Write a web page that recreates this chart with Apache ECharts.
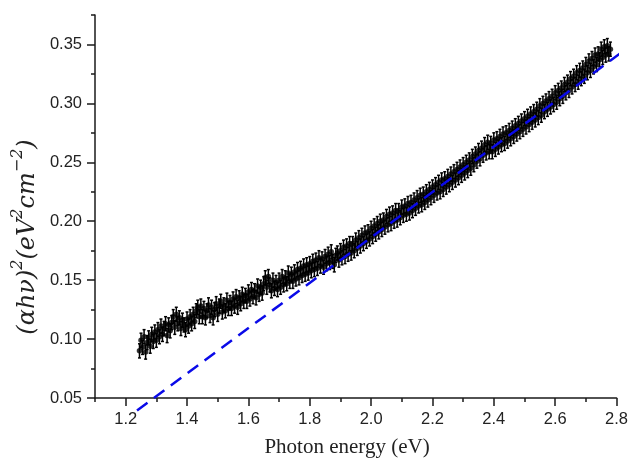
<!DOCTYPE html>
<html>
<head>
<meta charset="utf-8">
<script src="https://cdn.jsdelivr.net/npm/echarts@6/dist/echarts.min.js"></script>
<style>
html,body{margin:0;padding:0;background:#fff;}
#chart{width:631px;height:460px;}
</style>
</head>
<body>
<div id="chart"></div>
<script>
// ---- data ----
const xStart = 1.245;      // first photon energy (eV)
const xStep = 0.005;       // sampling step (eV)
const absorb = [
  0.090,0.099,0.093,0.102,0.089,0.097,0.101,0.094,0.104,0.098,
  0.106,0.099,0.108,0.102,0.111,0.104,0.109,0.113,0.103,0.112,
  0.107,0.114,0.119,0.110,0.121,0.113,0.118,0.109,0.116,0.112,
  0.108,0.117,0.111,0.119,0.113,0.121,0.115,0.124,0.127,0.119,
  0.128,0.119,0.126,0.118,0.124,0.129,0.120,0.127,0.118,0.125,
  0.130,0.121,0.128,0.132,0.123,0.129,0.124,0.133,0.126,0.131,
  0.126,0.134,0.128,0.136,0.127,0.135,0.130,0.138,0.132,0.137,
  0.132,0.140,0.134,0.142,0.136,0.141,0.135,0.145,0.138,0.144,
  0.139,0.147,0.152,0.144,0.153,0.146,0.141,0.150,0.143,0.148,
  0.142,0.150,0.144,0.153,0.146,0.152,0.147,0.156,0.149,0.155,
  0.149,0.157,0.151,0.159,0.152,0.160,0.154,0.162,0.155,0.163,
  0.156,0.164,0.158,0.166,0.159,0.167,0.160,0.169,0.162,0.168,
  0.161,0.170,0.164,0.172,0.165,0.174,0.166,0.163,0.171,0.173,
  0.167,0.175,0.169,0.178,0.170,0.179,0.172,0.181,0.173,0.181,
  0.175,0.184,0.177,0.186,0.179,0.188,0.181,0.190,0.183,0.191,
  0.185,0.194,0.187,0.196,0.189,0.198,0.191,0.200,0.193,0.201,
  0.195,0.204,0.197,0.206,0.198,0.207,0.200,0.209,0.201,0.209,
  0.203,0.212,0.205,0.213,0.206,0.215,0.207,0.216,0.209,0.218,
  0.211,0.220,0.213,0.222,0.214,0.223,0.216,0.225,0.218,0.227,
  0.220,0.229,0.222,0.231,0.224,0.233,0.225,0.235,0.227,0.236,
  0.229,0.238,0.231,0.240,0.233,0.242,0.235,0.244,0.237,0.246,
  0.239,0.248,0.241,0.250,0.243,0.252,0.245,0.255,0.248,0.257,
  0.251,0.260,0.253,0.262,0.256,0.265,0.258,0.267,0.259,0.266,
  0.259,0.269,0.261,0.270,0.263,0.272,0.265,0.274,0.266,0.275,
  0.268,0.277,0.270,0.279,0.272,0.281,0.274,0.283,0.276,0.285,
  0.278,0.287,0.280,0.289,0.282,0.291,0.284,0.293,0.286,0.295,
  0.288,0.298,0.290,0.300,0.293,0.302,0.295,0.304,0.297,0.306,
  0.299,0.309,0.301,0.311,0.304,0.313,0.306,0.316,0.309,0.318,
  0.311,0.321,0.314,0.323,0.316,0.326,0.318,0.328,0.321,0.330,
  0.323,0.333,0.326,0.336,0.328,0.338,0.331,0.341,0.333,0.342,
  0.337,0.346,0.339,0.348,0.341,0.349,0.342,0.346
];
const errHalf = 0.006;  // error bar half-height
const fitLine = [[1.237, 0.0394], [2.85, 0.3498]];
const xMajorTicks = [1.2,1.4,1.6,1.8,2.0,2.2,2.4,2.6,2.8];
const xMinorTicks = [1.1,1.3,1.5,1.7,1.9,2.1,2.3,2.5,2.7];
const yMajorTicks = [0.05,0.10,0.15,0.20,0.25,0.30,0.35];
const yMinorTicks = [0.075,0.125,0.175,0.225,0.275,0.325,0.375];

const points = absorb.map((v, i) => [+(xStart + i * xStep).toFixed(3), v]);

const chart = echarts.init(document.getElementById('chart'), null, {renderer: 'canvas'});
const axisColor = '#1a1a1a';
const labelFont = {fontFamily: 'Liberation Sans, Arial, sans-serif', fontSize: 16.5, color: '#222'};

chart.setOption({
  animation: false,
  backgroundColor: '#fff',
  grid: {left: 95, right: 14, top: 15, bottom: 62},
  xAxis: [{
    type: 'value', min: 1.1, max: 2.8,
    axisLine: {lineStyle: {color: axisColor, width: 1.5}},
    axisTick: {customValues: xMajorTicks, length: 8, lineStyle: {color: axisColor, width: 1.5}},
    axisLabel: Object.assign({customValues: xMajorTicks, margin: 13, formatter: v => v.toFixed(1)}, labelFont),
    splitLine: {show: false}
  }, {
    type: 'value', min: 1.1, max: 2.8, position: 'bottom',
    axisLine: {show: false},
    axisTick: {customValues: xMinorTicks, length: 4, lineStyle: {color: axisColor, width: 1.5}},
    axisLabel: {show: false},
    splitLine: {show: false}
  }],
  yAxis: [{
    type: 'value', min: 0.05, max: 0.375,
    axisLine: {show: true, lineStyle: {color: axisColor, width: 1.5}},
    axisTick: {show: true, customValues: yMajorTicks, length: 8, lineStyle: {color: axisColor, width: 1.5}},
    axisLabel: Object.assign({customValues: yMajorTicks, margin: 13, formatter: v => v.toFixed(2)}, labelFont),
    splitLine: {show: false}
  }, {
    type: 'value', min: 0.05, max: 0.375, position: 'left',
    axisLine: {show: false},
    axisTick: {show: true, customValues: yMinorTicks, length: 4, lineStyle: {color: axisColor, width: 1.5}},
    axisLabel: {show: false},
    splitLine: {show: false}
  }],
  series: [{
    type: 'custom',
    xAxisIndex: 0, yAxisIndex: 0,
    data: points,
    encode: {x: 0, y: 1},
    renderItem: function (params, api) {
      const x = api.value(0), y = api.value(1);
      const lo = api.coord([x, y - errHalf]);
      const hi = api.coord([x, y + errHalf]);
      const c = 1.5;
      const st = {stroke: '#000', lineWidth: 1.5};
      return {type: 'group', children: [
        {type: 'line', shape: {x1: lo[0], y1: lo[1], x2: hi[0], y2: hi[1]}, style: st},
        {type: 'line', shape: {x1: lo[0] - c, y1: lo[1], x2: lo[0] + c, y2: lo[1]}, style: st},
        {type: 'line', shape: {x1: hi[0] - c, y1: hi[1], x2: hi[0] + c, y2: hi[1]}, style: st}
      ]};
    },
    z: 2
  }, {
    type: 'scatter',
    xAxisIndex: 0, yAxisIndex: 0,
    data: points,
    symbol: 'circle', symbolSize: 5.5,
    itemStyle: {color: '#000'},
    z: 3
  }, {
    type: 'line',
    xAxisIndex: 0, yAxisIndex: 0,
    data: fitLine,
    clip: false,
    symbol: 'none',
    lineStyle: {color: '#0a0ae8', width: 2.5, type: [13, 8]},
    z: 4
  }],
  graphic: [{
    type: 'text',
    x: 25, y: 237,
    rotation: Math.PI / 2,
    style: {
      text: '{a|(αhν)}{s|2}{a|(eV}{s|2}{a|cm}{s|−2}{a|)}',
      align: 'center', verticalAlign: 'middle',
      fill: '#222',
      rich: {
        a: {fontFamily: 'DejaVu Serif, serif', fontStyle: 'italic', fontSize: 24, fill: '#222', lineHeight: 30, verticalAlign: 'bottom'},
        s: {fontFamily: 'DejaVu Serif, serif', fontStyle: 'italic', fontSize: 16, fill: '#222', lineHeight: 30, verticalAlign: 'top'}
      }
    }
  }, {
    type: 'text',
    x: 347, y: 447,
    style: {
      text: 'Photon energy (eV)',
      align: 'center', verticalAlign: 'middle',
      fontFamily: 'Liberation Serif, Times New Roman, serif',
      fontSize: 21, fill: '#222'
    }
  }]
});
</script>
</body>
</html>
